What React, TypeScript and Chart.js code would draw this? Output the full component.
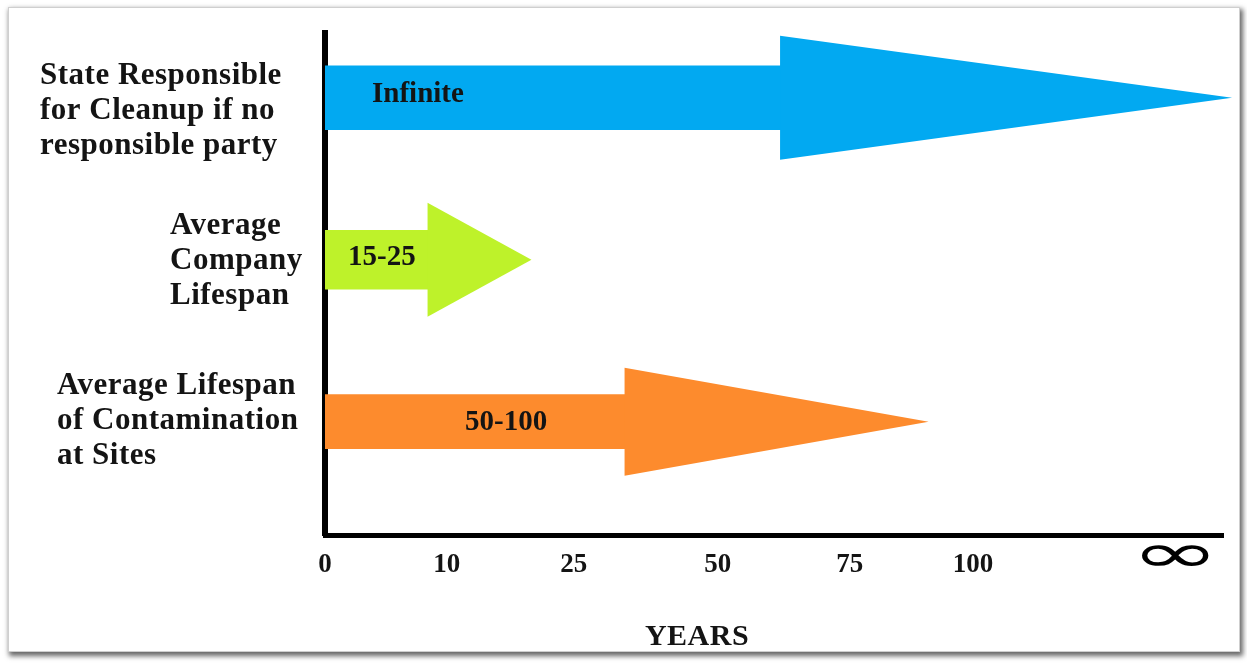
import React, { useEffect, useRef } from "react";
import { Chart, registerables } from "chart.js";

Chart.register(...registerables);

// ---------- data ----------
const CATEGORY_LINES: string[][] = [
  ["State Responsible", "for Cleanup if no", "responsible party"],
  ["Average", "Company", "Lifespan"],
  ["Average Lifespan", "of Contamination", "at Sites"],
];
const ARROW_TEXT = ["Infinite", "15-25", "50-100"];
// where the arrow head begins and where its tip ends (years)
const HEAD_START_YEARS = [62, 8.5, 34];
const TIP_YEARS = [Infinity, 20, 91];
const ROW_POS = [0.4, 1.4, 2.4];

// schematic (non-proportional) year axis: tick labels and their positions
const TICK_YEARS = [0, 10, 25, 50, 75, 100];
const TICK_LABELS = ["0", "10", "25", "50", "75", "100", "\u221E"];
const TICK_SLOTS = [0, 0.94, 1.92, 3.03, 4.05, 5.0, 6.56];

// ---------- style ----------
const COLORS = ["#02A9F1", "#BEF22A", "#FD8B2D"];
const SHAFT_PX = [64, 59, 54];
const HEAD_HALF_PX = [62, 57, 54];
const LABEL_X = [40, 170, 57];
const LABEL_DY = [13, 1, -1];
const LABEL_LINE_H = 35;
const ARROW_TEXT_DX = [47, 23, 140];
const ARROW_TEXT_DY = [-3, -2, 1];
const X_MAX = 6.93;
const INFINITE_SLOT = 7.0;
const SERIF = '"Liberation Serif", "Times New Roman", serif';
const TEXT_COLOR = "#141414";
const INF_INDEX = TICK_LABELS.length - 1;

function yearsToSlot(y: number): number {
  if (!isFinite(y)) return INFINITE_SLOT;
  for (let i = 1; i < TICK_YEARS.length; i++) {
    if (y <= TICK_YEARS[i]) {
      const a = TICK_YEARS[i - 1];
      const b = TICK_YEARS[i];
      return TICK_SLOTS[i - 1] + ((y - a) / (b - a)) * (TICK_SLOTS[i] - TICK_SLOTS[i - 1]);
    }
  }
  return TICK_SLOTS[TICK_YEARS.length - 1];
}

const arrowPlugin = {
  id: "arrowHeads",
  afterDatasetsDraw(chart: any) {
    const { ctx, scales } = chart;
    const xs = scales.x;
    const ys = scales.y;
    ctx.save();
    for (let i = 0; i < ARROW_TEXT.length; i++) {
      const xb = xs.getPixelForValue(yearsToSlot(HEAD_START_YEARS[i]));
      const xt = xs.getPixelForValue(yearsToSlot(TIP_YEARS[i]));
      const yc = ys.getPixelForValue(ROW_POS[i]);
      const h = HEAD_HALF_PX[i];
      ctx.beginPath();
      ctx.moveTo(xb - 1, yc - h);
      ctx.lineTo(xt, yc);
      ctx.lineTo(xb - 1, yc + h);
      ctx.closePath();
      ctx.fillStyle = COLORS[i];
      ctx.fill();

      const x0 = xs.getPixelForValue(0);
      ctx.font = `bold 29px ${SERIF}`;
      ctx.fillStyle = TEXT_COLOR;
      ctx.textAlign = "left";
      ctx.textBaseline = "middle";
      ctx.fillText(ARROW_TEXT[i], x0 + ARROW_TEXT_DX[i], yc + ARROW_TEXT_DY[i]);
    }
    ctx.restore();
  },
  afterDraw(chart: any) {
    const { ctx, scales } = chart;
    const ys = scales.y;
    const xs = scales.x;
    ctx.save();
    ctx.font = `bold 31px ${SERIF}`;
    (ctx as any).letterSpacing = "0.5px";
    ctx.fillStyle = TEXT_COLOR;
    ctx.textAlign = "left";
    ctx.textBaseline = "middle";
    for (let i = 0; i < CATEGORY_LINES.length; i++) {
      const lines = CATEGORY_LINES[i];
      const yc = ys.getPixelForValue(ROW_POS[i]) + LABEL_DY[i];
      lines.forEach((line, j) => {
        const y = yc + (j - (lines.length - 1) / 2) * LABEL_LINE_H;
        ctx.fillText(line, LABEL_X[i], y);
      });
    }
    // axis title
    ctx.font = `bold 30px ${SERIF}`;
    ctx.textAlign = "center";
    ctx.fillText("YEARS", 697, 637);
    (ctx as any).letterSpacing = "0px";

    // the infinity tick label, drawn wide and flat at its tick position
    const px = xs.getPixelForValue(TICK_SLOTS[INF_INDEX]);
    ctx.translate(px, 558);
    ctx.scale(1.95, 1);
    ctx.font = `55px "DejaVu Sans", sans-serif`;
    ctx.fillStyle = "#000";
    ctx.textAlign = "center";
    ctx.textBaseline = "middle";
    ctx.fillText(TICK_LABELS[INF_INDEX], 0, 0);
    ctx.restore();
  },
};

export default function App() {
  const ref = useRef<HTMLCanvasElement | null>(null);

  useEffect(() => {
    if (!ref.current) return;
    const chart = new Chart(ref.current, {
      type: "bar",
      data: {
        datasets: ARROW_TEXT.map((name, i) => ({
          label: name,
          data: [{ y: ROW_POS[i], x: [0, yearsToSlot(HEAD_START_YEARS[i])] }] as any,
          backgroundColor: COLORS[i],
          borderWidth: 0,
          barThickness: SHAFT_PX[i],
          grouped: false,
        })),
      },
      options: {
        indexAxis: "y",
        animation: false,
        responsive: false,
        events: [],
        layout: { padding: { left: 0, right: 24, top: 33, bottom: 0 } },
        plugins: {
          legend: { display: false },
          tooltip: { enabled: false },
          title: { display: false },
        },
        scales: {
          x: {
            type: "linear",
            min: 0,
            max: X_MAX,
            offset: false,
            grid: { display: false, drawTicks: false },
            border: { display: true, color: "#000", width: 5 },
            afterBuildTicks: (scale: any) => {
              scale.ticks = TICK_SLOTS.map((v) => ({ value: v }));
            },
            afterFit: (scale: any) => {
              scale.height = 128;
            },
            ticks: {
              autoSkip: false,
              maxRotation: 0,
              minRotation: 0,
              padding: 14,
              color: TEXT_COLOR,
              callback: (_v: any, idx: number) => (idx === INF_INDEX ? "" : TICK_LABELS[idx]),
              font: { family: SERIF, size: 27, weight: "bold", lineHeight: 1.2 },
            },
          },
          y: {
            type: "linear",
            min: 0,
            max: 3.1,
            reverse: true,
            offset: false,
            grid: { display: false, drawTicks: false, offset: false },
            border: { display: true, color: "#000", width: 6 },
            ticks: { display: false },
            afterFit: (scale: any) => {
              scale.width = 325;
            },
          },
        },
      } as any,
      plugins: [arrowPlugin],
    });
    return () => chart.destroy();
  }, []);

  return (
    <div
      style={{
        position: "fixed",
        left: 0,
        top: 0,
        width: 1247,
        height: 663,
        background: "#fff",
        overflow: "hidden",
      }}
    >
      <div
        style={{
          position: "absolute",
          left: 8,
          top: 7,
          width: 1232,
          height: 645,
          boxSizing: "border-box",
          border: "1px solid #cfcfcf",
          boxShadow: "2px 3px 5px 1px rgba(0,0,0,0.6)",
          background: "#fff",
        }}
      />
      <canvas
        ref={ref}
        width={1247}
        height={663}
        style={{ position: "absolute", left: 0, top: 0, width: 1247, height: 663 }}
      />
    </div>
  );
}
